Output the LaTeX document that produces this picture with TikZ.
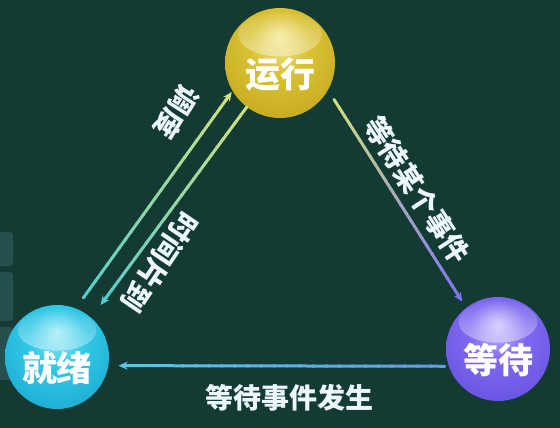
\documentclass[tikz,border=0pt]{standalone}
\usepackage{fontspec}
\usetikzlibrary{calc,arrows.meta,fadings}
\newfontfamily\cjk{Noto Sans CJK SC}
\definecolor{bg}{RGB}{20,58,52}
\definecolor{sidebox}{RGB}{38,80,77}
\definecolor{lbltext}{RGB}{236,248,252}
\definecolor{yA}{RGB}{244,234,150}
\definecolor{yB}{RGB}{218,194,52}
\definecolor{yC}{RGB}{194,164,26}
\definecolor{yD}{RGB}{150,122,12}
\definecolor{cA}{RGB}{160,236,248}
\definecolor{cB}{RGB}{50,200,230}
\definecolor{cC}{RGB}{22,166,206}
\definecolor{cD}{RGB}{12,118,158}
\definecolor{pA}{RGB}{204,196,255}
\definecolor{pB}{RGB}{126,106,240}
\definecolor{pC}{RGB}{98,78,222}
\definecolor{pD}{RGB}{66,46,172}
\definecolor{lnY}{RGB}{210,226,125}
\definecolor{lnC}{RGB}{85,205,205}
\definecolor{lnP}{RGB}{125,115,245}
\definecolor{lnB}{RGB}{100,155,235}
\definecolor{lnCB}{RGB}{85,200,230}
\pgfdeclareradialshading{ballY}{\pgfpoint{0bp}{12bp}}{color(0bp)=(yA);color(14bp)=(yB);color(38bp)=(yC);color(62bp)=(yD)}
\pgfdeclareradialshading{ballC}{\pgfpoint{0bp}{12bp}}{color(0bp)=(cA);color(14bp)=(cB);color(38bp)=(cC);color(62bp)=(cD)}
\pgfdeclareradialshading{ballP}{\pgfpoint{0bp}{12bp}}{color(0bp)=(pA);color(14bp)=(pB);color(38bp)=(pC);color(62bp)=(pD)}
\newcommand\gradline[4]{%
  \foreach \i in {0,...,23}{%
    \pgfmathsetmacro\ta{\i/25}%
    \pgfmathsetmacro\tb{(\i+1.15)/25}%
    \pgfmathtruncatemacro\pc{100*(\i+0.5)/25}%
    \draw[conn, draw=#4!\pc!#3] ($(#1)!\ta!(#2)$) -- ($(#1)!\tb!(#2)$);
  }%
  \draw[conn, draw=#4, -{Stealth[length=9pt,width=8pt]}] ($(#1)!0.96!(#2)$) -- (#2);
}
\begin{document}
\begin{tikzpicture}[x=1pt,y=-1pt,
  sphere/.style n args={2}{circle, inner sep=0pt, minimum size={2*#1}, shade, shading=#2,
    path picture={\fill[white,fill opacity=0.9,path fading=north]
      ($(path picture bounding box.north)+(0,0.48*#1)$) ellipse ({0.76*#1} and {0.4*#1});}},
  sphtext/.style={text=white, font=\cjk\bfseries\fontsize{35}{35}\selectfont, inner sep=0pt, yshift=-11pt},
  lbl/.style={text=lbltext, font=\cjk\bfseries\fontsize{28}{28}\selectfont, inner sep=0pt},
  conn/.style={line width=3pt, line cap=round}]
\fill[bg] (0,0) rectangle (560,428);
\useasboundingbox (0,0) rectangle (560,428);
\fill[sidebox, rounded corners=3pt] (-10,232) rectangle (13,266);
\fill[sidebox, rounded corners=3pt] (-10,272) rectangle (13,321);
\fill[sidebox, rounded corners=3pt] (-10,327) rectangle (13,380);

\node[sphere={55}{ballY}, label={[sphtext]center:运行}] (run) at (280,63) {};
\node[sphere={52}{ballC}, label={[sphtext]center:就绪}] (ready) at (57,357) {};
\node[sphere={52}{ballP}, label={[sphtext]center:等待}] (wait) at (498,349) {};

\coordinate (a1) at ($(ready)!1.24!(ready.66)$);
\coordinate (b1) at ($(run)!1.02!(run.211)$);
\coordinate (a2) at (run.233);
\coordinate (b2) at ($(ready)!1.3!(ready.50)$);
\coordinate (a3) at ($(run)!1.18!(run.326)$);
\coordinate (b3) at ($(wait)!1.14!(wait.127)$);
\coordinate (a4) at ($(wait)!1.07!(wait.198)$);
\coordinate (b4) at ($(ready)!1.19!(ready.352)$);

\gradline{a1}{b1}{lnC}{lnY}
\gradline{a2}{b2}{lnY}{lnC}
\gradline{a3}{b3}{lnY}{lnP}
\gradline{a4}{b4}{lnB}{lnCB}

\node[lbl, rotate=-122] (tl1) at (177,112) {调度};
\node[lbl, rotate=-124] (tl2) at (160,262) {时间片到};
\node[lbl, rotate=-57] (tl3) at (417,190) {等待某个事件};
\node[lbl] (tl4) at (289,398) {等待事件发生};
\end{tikzpicture}
\end{document}
